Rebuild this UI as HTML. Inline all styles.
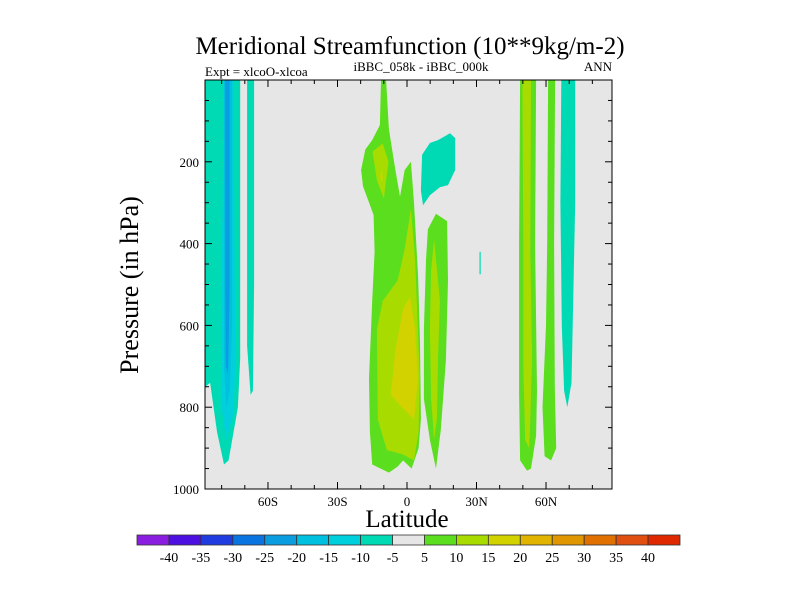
<!DOCTYPE html>
<html><head><meta charset="utf-8"><style>
body{margin:0;background:#fff;}
svg{display:block;font-family:"Liberation Serif",serif;}
</style></head><body>
<svg width="800" height="600" id="chart">
<text x="410" y="54" font-size="25" text-anchor="middle">Meridional Streamfunction (10**9kg/m-2)</text>
<text x="205" y="76" font-size="13">Expt = xlcoO-xlcoa</text>
<text x="421" y="71" font-size="13" text-anchor="middle">iBBC_058k - iBBC_000k</text>
<text x="612" y="71" font-size="13" text-anchor="end">ANN</text>
<text transform="translate(138,285) rotate(-90)" font-size="26" text-anchor="middle">Pressure (in hPa)</text>
<text x="407" y="527" font-size="25" text-anchor="middle">Latitude</text>
<g id="plot"></g>
<g id="cbar"></g>
</svg>
<script>
const NS="http://www.w3.org/2000/svg";
const xTickVals=[-60,-30,0,30,60];
const xTickLabels=["60S","30S","0","30N","60N"];
const yTickVals=[200,400,600,800,1000];
const levels=[-40,-35,-30,-25,-20,-15,-10,-5,5,10,15,20,25,30,35,40];
const colors=["#8a1ee0","#4c10e0","#1e3ce0","#0a74e0","#0a9ee0","#00c0e0","#00d0dc","#00dab4","#e6e6e6","#5ade1e","#a8dc00","#d2d200","#e0b400","#e09600","#e07000","#e04e10","#e02800"];
// contour regions: [level index, [[lat,pressure],...]]
const regions=[
 [7,[[-87,0],[-72,0],[-72,680],[-73,800],[-77,930],[-79,940],[-82,860],[-85,740],[-87,750]]],
 [6,[[-79,0],[-75,0],[-74,700],[-75,820],[-78,880],[-80,800],[-80,500]]],
 [5,[[-79,0],[-75.5,0],[-75.5,600],[-76.5,760],[-78,800],[-79,700]]],
 [4,[[-78.5,0],[-76.5,0],[-76.5,500],[-77.2,720],[-78.2,700],[-78.5,500]]],
 [7,[[-69,0],[-66,0],[-66,500],[-66.5,760],[-67.5,770],[-69,650]]],
 [9,[[-11.2,0],[-9,0],[-7.8,120],[-5,220],[-3,285],[-1,220],[1.7,200],[3,300],[4.8,480],[5.6,640],[6,830],[5,900],[2,950],[-1.7,930],[-4,945],[-7.8,960],[-15,940],[-16,860],[-16.4,730],[-15,540],[-14,420],[-14.4,330],[-19,260],[-19.8,220],[-18,170],[-15,147],[-11.7,110]]],
 [10,[[-14.9,175],[-10.5,155],[-8,200],[-10,290],[-13,245]]],
 [10,[[1.7,315],[3.5,440],[5.5,720],[5,860],[3,930],[-2,915],[-8.7,905],[-12.6,830],[-13,610],[-10.5,540],[-4,490],[-0.9,410]]],
 [11,[[1.3,530],[3.5,610],[4.7,730],[3,830],[-3,795],[-7,770],[-5,660],[-1.7,560]]],
 [11,[[-11,220],[-10.5,240],[-11,250],[-11.5,235]]],
 [9,[[9,365],[12.5,327],[17.3,345],[17.7,490],[16.8,685],[14.6,855],[12.5,950],[9.9,880],[7.3,780],[7.3,610],[8.2,440]]],
 [10,[[11.7,390],[14.2,540],[13.4,685],[12.9,830],[11.7,880],[10.4,780],[9.9,610],[10.4,465]]],
 [7,[[6.5,183],[9.9,154],[13.4,147],[18.6,130],[20.8,142],[20.8,220],[17.7,257],[14.2,262],[9.9,282],[6.9,306],[6,270]]],
 [7,[[31.3,420],[31.8,420],[31.8,475],[31.3,475]]],
 [9,[[48.8,0],[55.7,0],[55.3,400],[56.1,760],[55.7,870],[53.5,950],[51.8,955],[48.8,930],[48.4,770],[48.4,400]]],
 [10,[[49.8,0],[53.5,0],[53.2,420],[54,680],[53.1,850],[52.7,900],[51,880],[50.2,700],[50.2,400]]],
 [9,[[60.9,0],[63.9,0],[63.5,400],[63.8,750],[64.4,900],[62.2,930],[59.4,920],[58.5,800],[60,600],[60.5,400]]],
 [7,[[66.6,0],[72.6,0],[72.6,300],[71.5,600],[71,740],[69.2,800],[67.8,760],[66.8,600],[66.2,300]]]
];
const X0=205,X1=612,Y0=80,Y1=489;
const xs=lat=>407+lat*2.317;
const ys=p=>Y0+p*(Y1-Y0)/1000;
const plot=document.getElementById('plot');
function mk(tag,attrs){const e=document.createElementNS(NS,tag);for(const k in attrs)e.setAttribute(k,attrs[k]);return e;}
let bg=mk('rect',{x:X0,y:Y0,width:X1-X0,height:Y1-Y0,fill:'#e6e6e6'});


plot.appendChild(bg);
regions.forEach((r,i)=>{
  const pts=r[1].map(q=>xs(q[0]).toFixed(1)+','+ys(q[1]).toFixed(1)).join(' ');
  const pg=mk('polygon',{points:pts,fill:colors[r[0]]});
  
  
  plot.appendChild(pg);
});
let fr=mk('rect',{x:X0,y:Y0,width:X1-X0,height:Y1-Y0,fill:'none',stroke:'#000','stroke-width':1});


plot.appendChild(fr);
for(let lat=-80;lat<=80;lat+=10){
  const x=xs(lat),L=(lat%30===0)?7:4;
  plot.appendChild(mk('line',{x1:x,x2:x,y1:Y1,y2:Y1-L,stroke:'#000'}));
  plot.appendChild(mk('line',{x1:x,x2:x,y1:Y0,y2:Y0+L,stroke:'#000'}));
}
for(let p=50;p<1000;p+=50){
  const y=ys(p),L=(p%200===0)?7:4;
  plot.appendChild(mk('line',{x1:X0,x2:X0+L,y1:y,y2:y,stroke:'#000'}));
  plot.appendChild(mk('line',{x1:X1,x2:X1-L,y1:y,y2:y,stroke:'#000'}));
}
xTickVals.forEach((v,i)=>{
  const t=mk('text',{x:xs(v),y:Y1+17,'font-size':13,'text-anchor':'middle'});
  t.textContent=xTickLabels[i];
  
  
  plot.appendChild(t);
});
yTickVals.forEach(v=>{
  const t=mk('text',{x:X0-6,y:ys(v)+5,'font-size':13,'text-anchor':'end'});
  t.textContent=v;
  
  
  plot.appendChild(t);
});
const cb=document.getElementById('cbar');
const CB0=137,CB1=680,CBY=535,CBH=10,bw=(CB1-CB0)/colors.length;
colors.forEach((c,i)=>{
  const r=mk('rect',{x:CB0+i*bw,y:CBY,width:bw,height:CBH,fill:c,stroke:'#333','stroke-width':0.8});
  
  
  cb.appendChild(r);
});
levels.forEach((v,i)=>{
  const t=mk('text',{x:CB0+(i+1)*bw,y:CBY+27,'font-size':14,'text-anchor':'middle'});
  t.textContent=v;
  
  
  cb.appendChild(t);
});
</script>
</body></html>
